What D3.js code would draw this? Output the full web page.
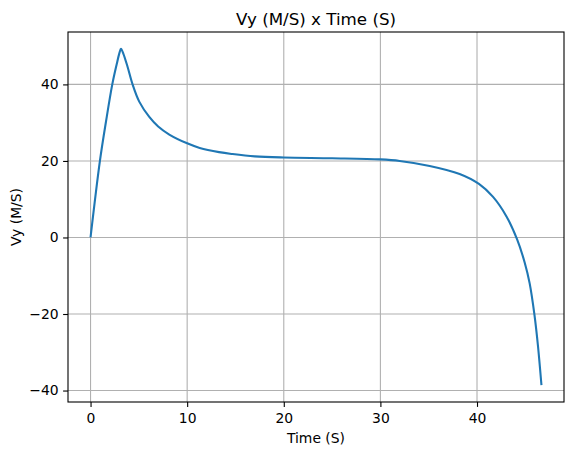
<!DOCTYPE html>
<html>
<head>
<meta charset="utf-8">
<script src="https://cdn.jsdelivr.net/npm/d3@7"></script>
<style>
  body { margin: 0; background: #fff; }
  text { font-family: "DejaVu Sans", sans-serif; fill: #000; }
</style>
</head>
<body>
<div id="chart"></div>
<script>
// data
var time = [0, 0.97, 1.6, 2.25, 2.7, 3.0, 3.15, 3.4, 3.83, 4.35, 5.04, 6.08, 7, 8.15, 10, 11.3, 13.3, 14.7, 17, 20, 25, 30, 32, 35.1, 38.2, 40.2, 41.66, 43.05, 44.15, 44.94, 45.45, 45.95, 46.3, 46.67];
var vy = [0, 20, 30.3, 40, 45.2, 48.3, 49.3, 48.0, 44.6, 40, 35.5, 31.5, 29.0, 26.9, 24.6, 23.4, 22.3, 21.8, 21.2, 20.9, 20.7, 20.4, 20.0, 18.7, 16.6, 14.0, 10.6, 5.5, -0.5, -6.6, -12.0, -20.3, -28.1, -38.6];
var xTicks = [0, 10, 20, 30, 40];
var yTicks = [-40, -20, 0, 20, 40];

var W = 574, H = 455;
var margin = {top: 32, right: 10, bottom: 53, left: 68},
    width = W - margin.left - margin.right,
    height = H - margin.top - margin.bottom;

var svg = d3.select("#chart").append("svg")
    .attr("width", W)
    .attr("height", H);

var g = svg.append("g")
    .attr("transform", "translate(" + margin.left + "," + margin.top + ")");

// matplotlib style 5% padding
var xExt = d3.extent(time), yExt = d3.extent(vy);
var xPad = (xExt[1] - xExt[0]) * 0.05, yPad = (yExt[1] - yExt[0]) * 0.05;

var x = d3.scaleLinear().domain([xExt[0] - xPad, xExt[1] + xPad]).range([0, width]);
var y = d3.scaleLinear().domain([yExt[0] - yPad, yExt[1] + yPad]).range([height, 0]);

// grid
g.append("g").selectAll("line")
    .data(xTicks).enter().append("line")
    .attr("x1", function(d){ return x(d); })
    .attr("x2", function(d){ return x(d); })
    .attr("y1", 0).attr("y2", height)
    .attr("stroke", "#b0b0b0").attr("stroke-width", 1.1);
g.append("g").selectAll("line")
    .data(yTicks).enter().append("line")
    .attr("y1", function(d){ return y(d); })
    .attr("y2", function(d){ return y(d); })
    .attr("x1", 0).attr("x2", width)
    .attr("stroke", "#b0b0b0").attr("stroke-width", 1.1);

// line
var pts = time.map(function(t, i){ return [t, vy[i]]; });
var line = d3.line()
    .x(function(d){ return x(d[0]); })
    .y(function(d){ return y(d[1]); })
    .curve(d3.curveCatmullRom.alpha(0.5));

g.append("path")
    .datum(pts)
    .attr("d", line)
    .attr("fill", "none")
    .attr("stroke", "#1f77b4")
    .attr("stroke-width", 2.1)
    .attr("stroke-linejoin", "round")
    .attr("stroke-linecap", "butt");

// axes
var xAxis = g.append("g")
    .attr("transform", "translate(0," + height + ")")
    .call(d3.axisBottom(x).tickValues(xTicks).tickSize(4.9).tickPadding(6.5).tickFormat(d3.format("d")));
var yAxis = g.append("g")
    .call(d3.axisLeft(y).tickValues(yTicks).tickSize(4.9).tickPadding(4.5)
      .tickFormat(function(d){ return d < 0 ? "\u2212" + Math.abs(d) : d; }));

[xAxis, yAxis].forEach(function(a){
  a.select(".domain").remove();
  a.selectAll("line").attr("stroke", "#000").attr("stroke-width", 1.1);
  a.selectAll("text").style("font-size", "13.9px").style("font-family", "DejaVu Sans");
});

// frame
g.append("rect")
    .attr("x", 0).attr("y", 0)
    .attr("width", width).attr("height", height)
    .attr("fill", "none").attr("stroke", "#000").attr("stroke-width", 1.1);

// labels
svg.append("text")
    .attr("x", margin.left + width / 2).attr("y", 25)
    .attr("text-anchor", "middle")
    .style("font-size", "16.7px")
    .text("Vy (M/S) x Time (S)");

svg.append("text")
    .attr("x", margin.left + width / 2).attr("y", 443)
    .attr("text-anchor", "middle")
    .style("font-size", "13.9px")
    .text("Time (S)");

svg.append("text")
    .attr("transform", "translate(21," + (margin.top + height / 2) + ") rotate(-90)")
    .attr("text-anchor", "middle")
    .style("font-size", "13.9px")
    .text("Vy (M/S)");
</script>
</body>
</html>
